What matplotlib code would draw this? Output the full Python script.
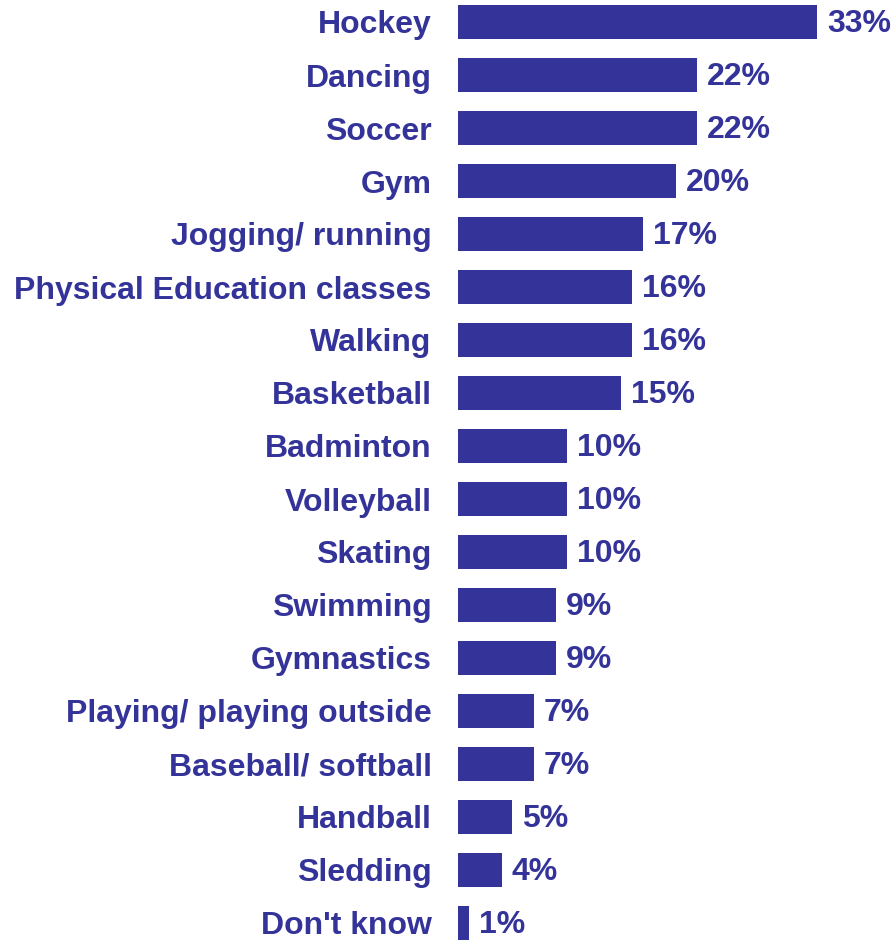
import matplotlib.pyplot as plt

activities = ["Hockey", "Dancing", "Soccer", "Gym", "Jogging/ running",
              "Physical Education classes", "Walking", "Basketball",
              "Badminton", "Volleyball", "Skating", "Swimming", "Gymnastics",
              "Playing/ playing outside", "Baseball/ softball", "Handball",
              "Sledding", "Don't know"]
percents = [33, 22, 22, 20, 17, 16, 16, 15, 10, 10, 10, 9, 9, 7, 7, 5, 4, 1]

COLOR = "#333399"

fig = plt.figure(figsize=(8.92, 9.42), dpi=100)
ax = fig.add_axes([458 / 892, 0, 434 / 892, 1])

pos = list(range(len(activities)))
ax.barh(pos, percents, height=0.66, color=COLOR)

ax.set_xlim(0, 434 / 10.88)
ax.set_ylim((942 - 22) / 53, -22 / 53)

ax.set_yticks(pos)
ax.set_yticklabels(activities, fontsize=23, fontweight="bold",
                   color=COLOR, family="Liberation Sans")
ax.tick_params(axis="y", length=0, pad=19)
ax.set_xticks([])
for s in ax.spines.values():
    s.set_visible(False)

for p, v in zip(pos, percents):
    ax.text(v + 0.9, p + 0.03, f"{v}%", va="center", ha="left", fontsize=23,
            fontweight="bold", color=COLOR, family="Liberation Sans")

fig.savefig("out.png", dpi=100)
